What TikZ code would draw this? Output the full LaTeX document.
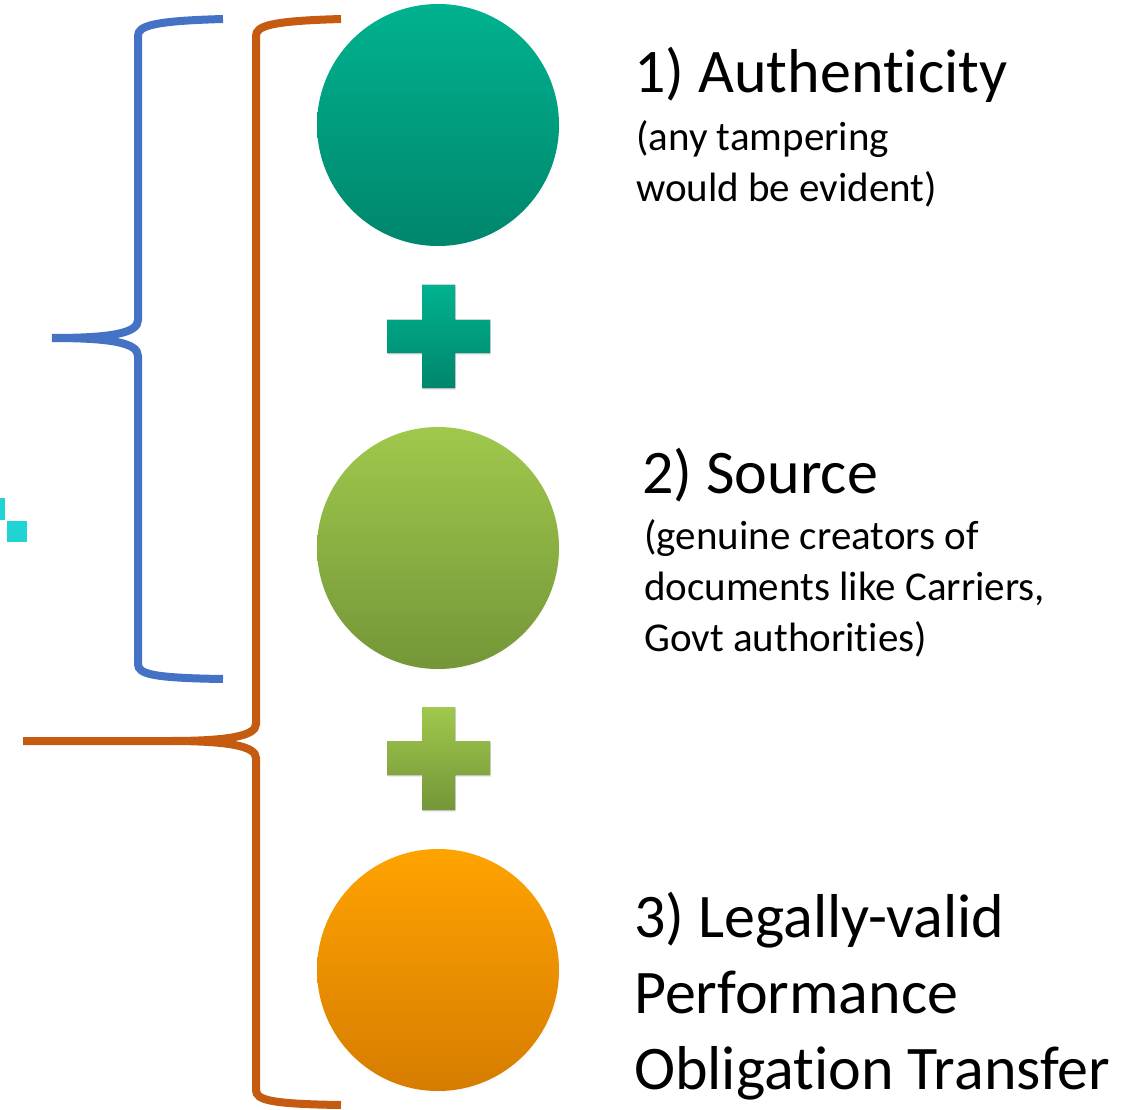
\documentclass[tikz,border=0pt]{standalone}
\usepackage{fontspec}
\setmainfont{Carlito}[Ligatures=NoCommon]
\usepackage{tikz}
\usetikzlibrary{shadows}

\definecolor{tealtop}{RGB}{0,178,143}
\definecolor{tealbot}{RGB}{0,134,108}
\definecolor{greentop}{RGB}{160,200,76}
\definecolor{greenbot}{RGB}{116,150,56}
\definecolor{orangetop}{RGB}{255,163,0}
\definecolor{orangebot}{RGB}{214,124,0}
\definecolor{braceblue}{RGB}{68,114,196}
\definecolor{braceorange}{RGB}{197,90,17}
\definecolor{speck}{RGB}{32,212,212}

\tikzset{
	ball/.style={circle,minimum size=242,inner sep=0,
		circular drop shadow={opacity=0.18,shadow xshift=2pt,shadow yshift=-3pt,shadow scale=1.0}},
	title/.style={anchor=base west,inner sep=0,font=\fontsize{62}{76}\selectfont},
	note/.style={anchor=north west,inner sep=0,align=left,font=\fontsize{41}{51}\selectfont},
	bracket/.style={line width=8pt,line cap=butt},
}

\begin{document}
\begin{tikzpicture}[x=1pt,y=-1pt]
	\useasboundingbox (0,0) rectangle (1128,1110);

	% circles
	\node[ball,top color=tealtop,bottom color=tealbot] (auth) at (438,125) {};
	\node[ball,top color=greentop,bottom color=greenbot] (src) at (438,548) {};
	\node[ball,top color=orangetop,bottom color=orangebot] (legal) at (438,970) {};

	% plus signs
	\fill[top color=tealtop,bottom color=tealbot,drop shadow={opacity=0.15,shadow xshift=1pt,shadow yshift=-2pt}]
		(422,285) -- (455,285) -- (455,320) -- (490,320) -- (490,353) -- (455,353)
		-- (455,388) -- (422,388) -- (422,353) -- (387,353) -- (387,320) -- (422,320) -- cycle;
	\fill[top color=greentop,bottom color=greenbot,drop shadow={opacity=0.15,shadow xshift=1pt,shadow yshift=-2pt}]
		(422,707) -- (455,707) -- (455,741) -- (490,741) -- (490,775) -- (455,775)
		-- (455,810) -- (422,810) -- (422,775) -- (387,775) -- (387,741) -- (422,741) -- cycle;

	% labels
	\node[title] (t1) at (634,93) {1) Authenticity};
	\node[note] (n1) at (636,120) {(any tampering\\would be evident)};
	\node[title] (t2) at (642,493) {2) Source};
	\node[note] (n2) at (644,519) {(genuine creators of\\documents like Carriers,\\Govt authorities)};
	\node[title,align=left,anchor=north west] (t3) at (634,892) {3) Legally-valid\\Performance\\Obligation Transfer};

	% braces
	\draw[bracket,braceblue] (223,19) .. controls (152,21) and (138,26) .. (138,36)
		-- (138,320) .. controls (138,333) and (112,338) .. (52,338);
	\draw[bracket,braceblue] (52,338) .. controls (112,338) and (138,343) .. (138,356)
		-- (138,664) .. controls (138,674) and (152,678) .. (223,679);
	\draw[bracket,braceorange] (341,19) .. controls (270,21) and (256,26) .. (256,36)
		-- (256,724) .. controls (256,736) and (228,741) .. (170,741) -- (23,741);
	\draw[bracket,braceorange] (170,741) .. controls (228,741) and (256,746) .. (256,758)
		-- (256,1090) .. controls (256,1100) and (270,1104) .. (341,1105);

	% stray specks at the left edge
	\fill[speck] (0,498) rectangle (5,520);
	\fill[speck] (7,521) rectangle (27,542);
\end{tikzpicture}
\end{document}
